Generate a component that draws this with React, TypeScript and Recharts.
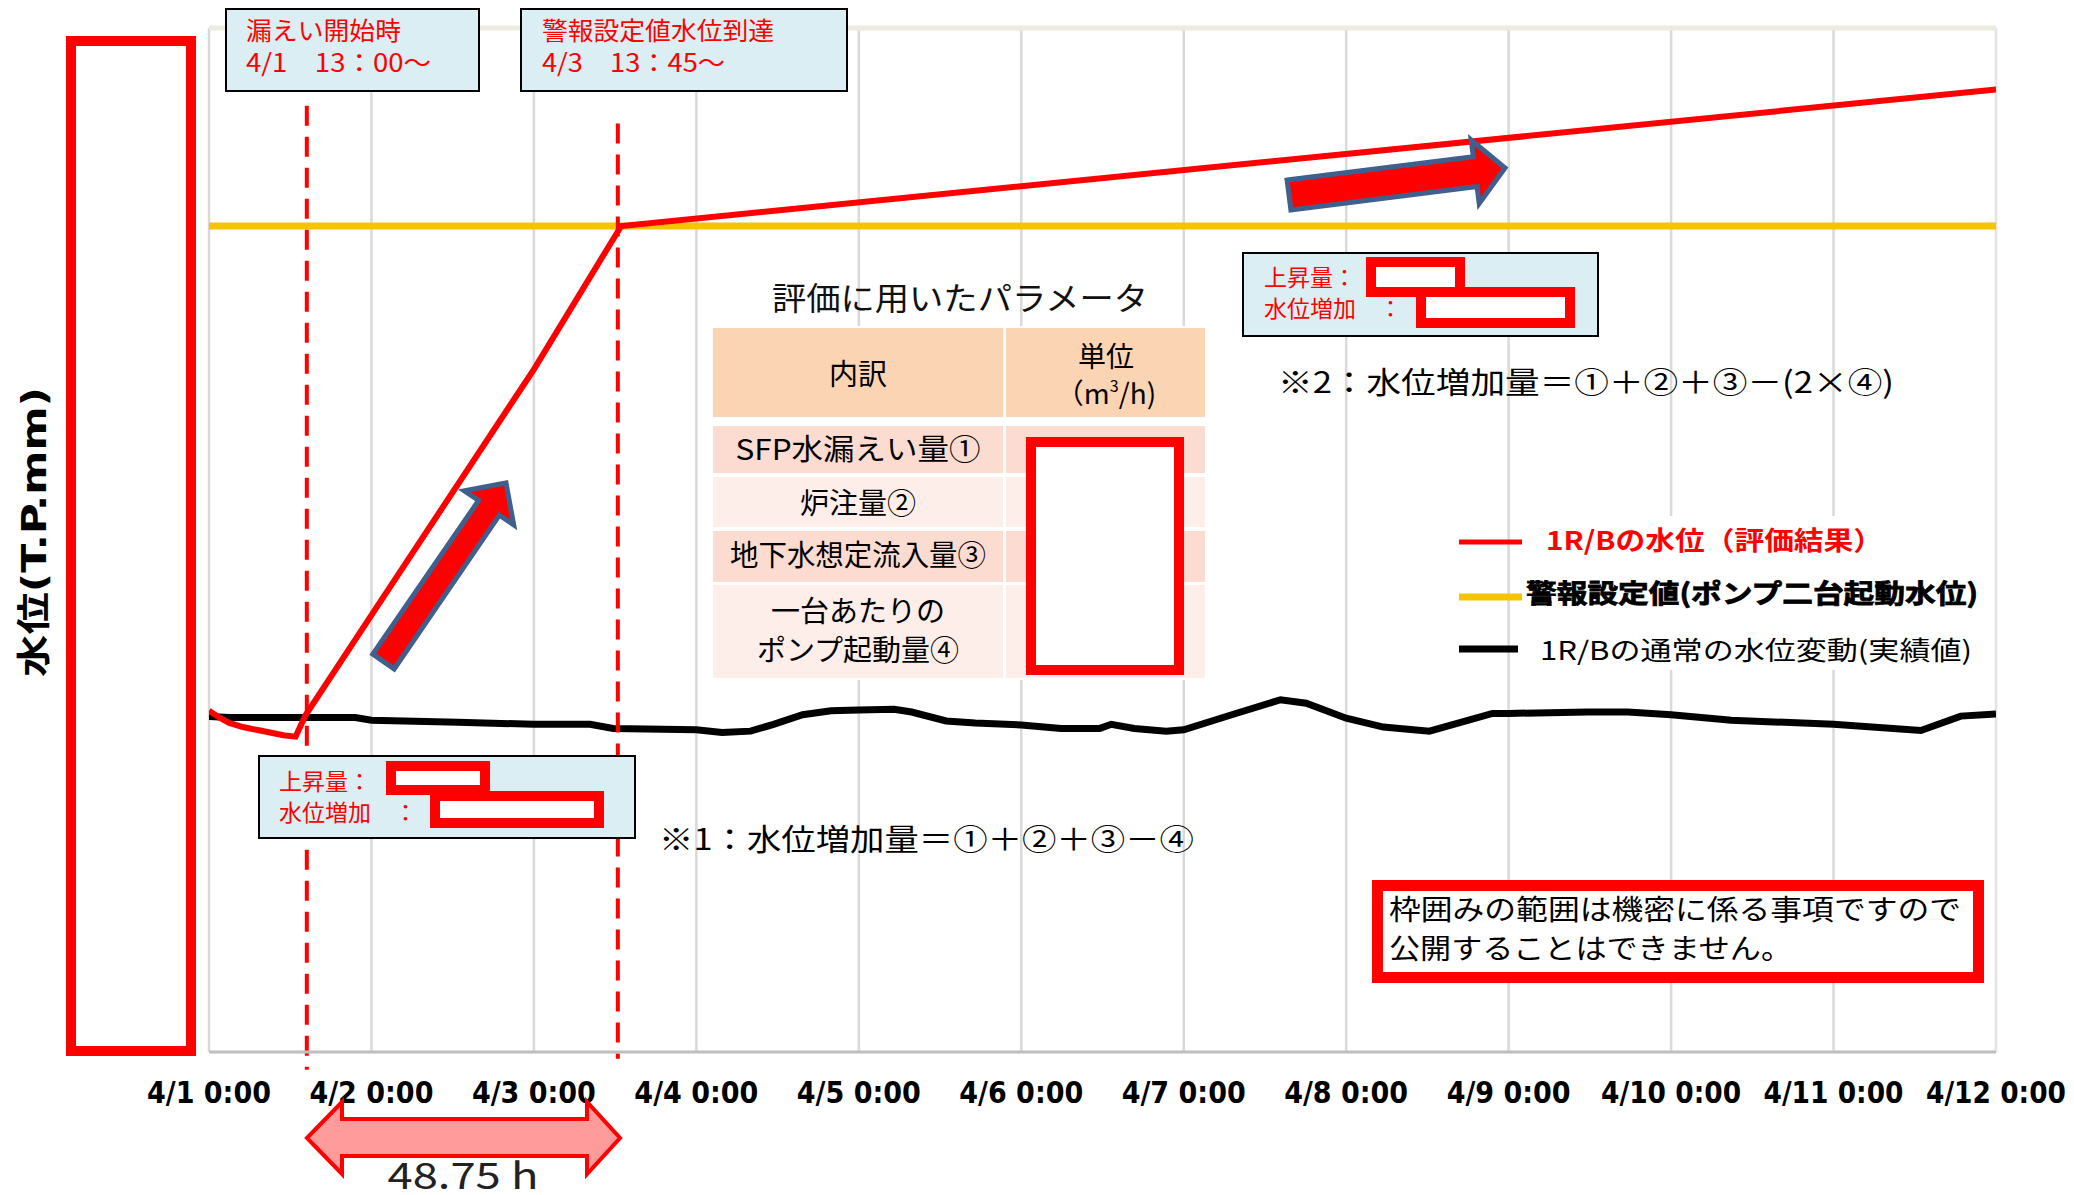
import React from 'react';
import { LineChart, Line, XAxis, YAxis, CartesianGrid, ReferenceLine } from 'recharts';

// ---- data (x in hours from 4/1 0:00, y in grid units) ----
const xTicks = [0, 24, 48, 72, 96, 120, 144, 168, 192, 216, 240, 264];
const xTickLabels = ['4/1 0:00', '4/2 0:00', '4/3 0:00', '4/4 0:00', '4/5 0:00', '4/6 0:00', '4/7 0:00', '4/8 0:00', '4/9 0:00', '4/10 0:00', '4/11 0:00', '4/12 0:00'];
const yTicks = [0, 1, 2, 3, 4, 5, 6, 7];

const redHours = [0, 1.5, 3, 5, 7, 9, 11, 12.8, 14.3, 24, 48, 60.9, 264];
const redValues = [2.5, 2.45, 2.41, 2.38, 2.36, 2.34, 2.32, 2.31, 2.47, 3.2, 5.0, 6.05, 7.05];

const alarmHours = [0, 264];
const alarmValues = [6.05, 6.05];

const blackHours = [0, 3, 21.6, 24, 36.8, 48, 56.3, 59.7, 72, 75.8, 80, 83.4, 87.7, 91.9, 96, 101.2, 103.8, 108.9, 113.2, 120, 125.9, 131.6, 133.3, 136.7, 141.4, 144, 151.1, 158.3, 162.1, 168, 173.5, 180.3, 189.6, 192, 203.7, 209.6, 216, 224.9, 240, 252.9, 258.8, 264];
const blackValues = [2.457, 2.45, 2.45, 2.43, 2.415, 2.4, 2.4, 2.37, 2.36, 2.34, 2.35, 2.4, 2.47, 2.5, 2.505, 2.51, 2.49, 2.425, 2.41, 2.395, 2.37, 2.37, 2.4, 2.37, 2.35, 2.36, 2.47, 2.58, 2.555, 2.445, 2.38, 2.35, 2.48, 2.48, 2.49, 2.49, 2.47, 2.43, 2.4, 2.355, 2.46, 2.475];

const seriesNames = ['1R/Bの水位（評価結果）', '警報設定値(ポンプ二台起動水位)', '1R/Bの通常の水位変動(実績値)'];
const seriesColors = ['#ff0000', '#f5c400', '#000000'];

const leakStartHour = 14.45;
const alarmReachHour = 60.4;

const redData = redHours.map((h, i) => ({ h, v: redValues[i] }));
const alarmData = alarmHours.map((h, i) => ({ h, v: alarmValues[i] }));
const blackData = blackHours.map((h, i) => ({ h, v: blackValues[i] }));

const JP = '"Noto Sans CJK JP", sans-serif';
const TICK_FONT = '"DejaVu Sans", sans-serif';

const XTick = (props: any) => {
  const { x, y, payload } = props;
  const idx = xTicks.indexOf(payload.value);
  const label = xTickLabels[idx] ?? '';
  const w = label.length > 8 ? 140 : 124;
  return (
    <text x={x} y={y + 49} textAnchor="middle" fontFamily={TICK_FONT} fontWeight="bold" fontSize={31}
      fill="#000" textLength={w} lengthAdjust="spacingAndGlyphs">{label}</text>
  );
};

const T = (p: any) => {
  const { children, ...rest } = p;
  return <text fontFamily={JP} dominantBaseline="central" {...rest}>{children}</text>;
};

const Overlay = () => (
  <svg width={2074} height={1195} style={{ position: 'absolute', left: 0, top: 0, pointerEvents: 'none' }}>
    {/* confidential y-axis cover */}
    <rect x={71} y={41} width={120} height={1010} fill="#fff" stroke="#ff0000" strokeWidth={10} />
    <text transform="translate(34,532) rotate(-90)" textAnchor="middle" dominantBaseline="central"
      fontFamily={'"DejaVu Sans", "Noto Sans CJK JP", sans-serif'} fontWeight="bold" fontSize={34}
      textLength={290} lengthAdjust="spacingAndGlyphs" fill="#000">水位(T.P.mm)</text>

    {/* top boxes */}
    <rect x={226} y={9} width={253} height={82} fill="#daeef3" stroke="#000" strokeWidth={2} />
    <T x={246} y={29} fontSize={25} fill="#ff0000" textLength={155} lengthAdjust="spacingAndGlyphs">漏えい開始時</T>
    <T x={246} y={61} fontSize={25} fill="#ff0000" textLength={185} lengthAdjust="spacingAndGlyphs">4/1　13：00～</T>
    <rect x={521} y={9} width={326} height={82} fill="#daeef3" stroke="#000" strokeWidth={2} />
    <T x={542} y={29} fontSize={25} fill="#ff0000" textLength={232} lengthAdjust="spacingAndGlyphs">警報設定値水位到達</T>
    <T x={542} y={61} fontSize={25} fill="#ff0000" textLength={183} lengthAdjust="spacingAndGlyphs">4/3　13：45～</T>

    {/* parameter table */}
    <T x={960} y={296} fontSize={32} fill="#111" textAnchor="middle" textLength={376} lengthAdjust="spacingAndGlyphs">評価に用いたパラメータ</T>
    <rect x={710} y={326} width={498} height={354} fill="#fff" />
    <rect x={713} y={328} width={290} height={89} fill="#fbd4b4" />
    <rect x={1006} y={328} width={199} height={89} fill="#fbd4b4" />
    <rect x={713} y={426} width={290} height={47} fill="#fcdbd0" />
    <rect x={1006} y={426} width={199} height={47} fill="#fcdbd0" />
    <rect x={713} y={477} width={290} height={50} fill="#fdeee9" />
    <rect x={1006} y={477} width={199} height={50} fill="#fdeee9" />
    <rect x={713} y={531} width={290} height={51} fill="#fcdbd0" />
    <rect x={1006} y={531} width={199} height={51} fill="#fcdbd0" />
    <rect x={713} y={585} width={290} height={93} fill="#fdeee9" />
    <rect x={1006} y={585} width={199} height={93} fill="#fdeee9" />
    <T x={858} y={372} fontSize={29} textAnchor="middle" fill="#000">内訳</T>
    <T x={1106} y={355} fontSize={28} textAnchor="middle" fill="#000">単位</T>
    <text x={1106} y={404} fontFamily={JP} fontSize={28} textAnchor="middle" fill="#000">（m<tspan fontSize={16} dy={-12}>3</tspan><tspan dy={12}>/h)</tspan></text>
    <T x={858} y={447} fontSize={29} textAnchor="middle" fill="#000" textLength={245} lengthAdjust="spacingAndGlyphs">SFP水漏えい量①</T>
    <T x={858} y={501} fontSize={29} textAnchor="middle" fill="#000">炉注量②</T>
    <T x={858} y={553} fontSize={29} textAnchor="middle" fill="#000" textLength={256} lengthAdjust="spacingAndGlyphs">地下水想定流入量③</T>
    <T x={858} y={609} fontSize={29} textAnchor="middle" fill="#000">一台あたりの</T>
    <T x={858} y={648} fontSize={29} textAnchor="middle" fill="#000">ポンプ起動量④</T>
    <rect x={1031} y={442} width={148} height={228} fill="#fff" stroke="#ff0000" strokeWidth={10} />

    {/* top-right rise box */}
    <rect x={1243} y={253} width={355} height={83} fill="#daeef3" stroke="#000" strokeWidth={2} />
    <T x={1264} y={276} fontSize={23} fill="#ff0000">上昇量：</T>
    <T x={1264} y={307} fontSize={23} fill="#ff0000">水位増加　：</T>
    <rect x={1371} y={262} width={89} height={30} fill="#fff" stroke="#ff0000" strokeWidth={10} />
    <rect x={1421} y={292} width={149} height={31} fill="#fff" stroke="#ff0000" strokeWidth={10} />
    <T x={1278} y={380} fontSize={30} fill="#000" textLength={616} lengthAdjust="spacingAndGlyphs">※2：水位増加量＝①＋②＋③－(2×④)</T>

    {/* bottom rise box */}
    <rect x={259} y={756} width={376} height={82} fill="#daeef3" stroke="#000" strokeWidth={2} />
    <T x={279} y={780} fontSize={23} fill="#ff0000">上昇量：</T>
    <T x={279} y={811} fontSize={23} fill="#ff0000">水位増加　：</T>
    <rect x={391} y={766} width={94} height={24} fill="#fff" stroke="#ff0000" strokeWidth={10} />
    <rect x={435} y={796} width={164} height={27} fill="#fff" stroke="#ff0000" strokeWidth={10} />
    <T x={659} y={837} fontSize={30} fill="#000" textLength={535} lengthAdjust="spacingAndGlyphs">※1：水位増加量＝①＋②＋③－④</T>

    {/* confidential note */}
    <rect x={1377.5} y={885.5} width={601} height={92} fill="#fff" stroke="#ff0000" strokeWidth={11} />
    <T x={1389} y={908} fontSize={28} fill="#000" textLength={572} lengthAdjust="spacingAndGlyphs">枠囲みの範囲は機密に係る事項ですので</T>
    <T x={1389} y={947} fontSize={28} fill="#000" textLength={403} lengthAdjust="spacingAndGlyphs">公開することはできません。</T>

    {/* block arrows */}
    <polygon points="372.8,654.1 478.6,500.5 464.3,490.8 506,483 513.7,524.8 499.4,515.1 394.2,668.9"
      fill="#ff0000" stroke="#3f5f8c" strokeWidth={5} strokeLinejoin="miter" />
    <polygon points="1287.1,180.1 1473.3,156.8 1471.2,140 1505,168 1479.2,203.4 1477.1,186.6 1290.9,209.9"
      fill="#ff0000" stroke="#3f5f8c" strokeWidth={5} strokeLinejoin="miter" />

    {/* 48.75 h double arrow */}
    <polygon points="307,1138 342,1102 342,1119 587,1119 587,1102 620,1138 587,1174 587,1156 342,1156 342,1174"
      fill="#ff9b9b" stroke="#ff0000" strokeWidth={4} />
    <text x={463} y={1189} fontFamily={JP} fontSize={37} fill="#222" textAnchor="middle" textLength={151} lengthAdjust="spacingAndGlyphs">48.75 h</text>

    {/* legend */}
    <rect x={1512} y={516} width={478} height={154} fill="#fff" />
    <line x1={1459} x2={1522} y1={542} y2={542} stroke={seriesColors[0]} strokeWidth={5} />
    <T x={1546} y={538} fontSize={26} fontWeight="bold" fill={seriesColors[0]} textLength={337} lengthAdjust="spacingAndGlyphs">{seriesNames[0]}</T>
    <line x1={1459} x2={1522} y1={597} y2={597} stroke={seriesColors[1]} strokeWidth={7} />
    <T x={1526} y={591} fontSize={26} fontWeight="bold" fill="#000" stroke="#000" strokeWidth={0.8} textLength={452} lengthAdjust="spacingAndGlyphs">{seriesNames[1]}</T>
    <line x1={1459} x2={1518} y1={649} y2={649} stroke={seriesColors[2]} strokeWidth={7} />
    <T x={1540} y={648} fontSize={26} fill="#000" textLength={432} lengthAdjust="spacingAndGlyphs">{seriesNames[2]}</T>
  </svg>
);

export default function App() {
  return (
    <div style={{ position: 'absolute', left: 0, top: 0, width: 2074, height: 1195, background: '#fff', overflow: 'hidden' }}>
      <LineChart width={2074} height={1195} margin={{ top: 28, right: 78, bottom: 83, left: 209 }}>
        <CartesianGrid stroke="#d9d9d9" strokeWidth={2.5} />
        <XAxis type="number" dataKey="h" domain={[0, 264]} ticks={xTicks} interval={0} height={60}
          tick={<XTick />} tickLine={false} tickSize={0} axisLine={{ stroke: '#bfbfbf', strokeWidth: 3 }} allowDataOverflow />
        <YAxis type="number" dataKey="v" domain={[0, 7.5]} ticks={yTicks} width={0} tick={false} tickLine={false}
          axisLine={{ stroke: '#d9d9d9', strokeWidth: 2.5 }} allowDataOverflow />
        <ReferenceLine y={7.5} stroke="#ecebdf" strokeWidth={5} />
        <ReferenceLine x={264} stroke="#e4e4e4" strokeWidth={2} />
        <Line data={alarmData} dataKey="v" name={seriesNames[1]} stroke={seriesColors[1]} strokeWidth={7} dot={false} isAnimationActive={false} type="linear" />
        <Line data={blackData} dataKey="v" name={seriesNames[2]} stroke={seriesColors[2]} strokeWidth={7} dot={false} isAnimationActive={false} type="linear" />
        <Line data={redData} dataKey="v" name={seriesNames[0]} stroke={seriesColors[0]} strokeWidth={6} dot={false} isAnimationActive={false} type="linear" />
        <ReferenceLine segment={[{ x: leakStartHour, y: 6.93 }, { x: leakStartHour, y: -0.13 }]} stroke="#ff0000" strokeWidth={4} strokeDasharray="20 11" ifOverflow="visible" />
        <ReferenceLine segment={[{ x: alarmReachHour, y: 6.8 }, { x: alarmReachHour, y: -0.05 }]} stroke="#ff0000" strokeWidth={4} strokeDasharray="20 11" ifOverflow="visible" />
      </LineChart>
      <Overlay />
    </div>
  );
}
